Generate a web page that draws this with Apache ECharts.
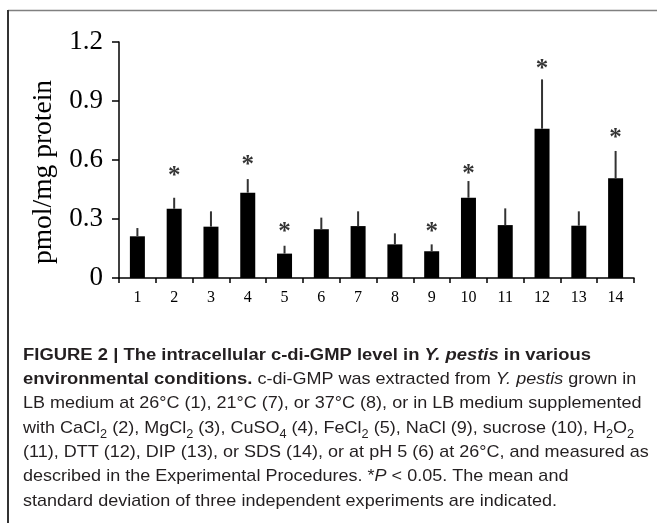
<!DOCTYPE html>
<html>
<head>
<meta charset="utf-8">
<script src="https://cdn.jsdelivr.net/npm/echarts@6/dist/echarts.min.js"></script>
<style>
    html, body {margin: 0; padding: 0; background: #fff;}
    #chart {width: 657px; height: 523px;}
</style>
</head>
<body>
<div id="chart"></div>
<script>
var categories = ['1', '2', '3', '4', '5', '6', '7', '8', '9', '10', '11', '12', '13', '14'];
var means = [0.212, 0.352, 0.261, 0.434, 0.124, 0.248, 0.264, 0.171, 0.136, 0.408, 0.269, 0.759, 0.266, 0.507];
var sds = [0.042, 0.056, 0.078, 0.069, 0.040, 0.059, 0.075, 0.056, 0.035, 0.085, 0.085, 0.251, 0.073, 0.139];
// height of the significance star, '-' = not significant
var stars = ['-', 0.529, '-', 0.585, 0.244, '-', '-', '-', 0.244, 0.540, '-', 1.074, '-', 0.722];
var yTicks = [0, 0.3, 0.6, 0.9, 1.2];

var serif = '"Liberation Serif", "Times New Roman", serif';
var sans = '"Liberation Sans", Arial, sans-serif';

var errData = means.map(function (m, i) {
    return [i, m, m + sds[i]];
});

var caption = [
    '{b|FIGURE 2 | The intracellular c-di-GMP level in }{bi|Y. pestis}{b| in various}',
    '{b|environmental conditions.}{n| c-di-GMP was extracted from }{i|Y. pestis}{n| grown in}',
    '{n|LB medium at 26°C (1), 21°C (7), or 37°C (8), or in LB medium supplemented}',
    '{n|with CaCl}{sub|2}{n| (2), MgCl}{sub|2}{n| (3), CuSO}{sub|4}{n| (4), FeCl}{sub|2}{n| (5), NaCl (9), sucrose (10), H}{sub|2}{n|O}{sub|2}',
    '{n|(11), DTT (12), DIP (13), or SDS (14), or at pH 5 (6) at 26°C, and measured as}',
    '{n|described in the Experimental Procedures. *}{i|P}{n| < 0.05. The mean and}',
    '{n|standard deviation of three independent experiments are indicated.}'
].join('\n');

var capFont = 17;
var capLine = 24.3;

var option = {
    backgroundColor: '#fff',
    animation: false,
    grid: {left: 119, top: 42, right: 23, bottom: 245, containLabel: false},
    xAxis: {
        type: 'category',
        data: categories,
        axisLine: {lineStyle: {color: '#000', width: 1.5}},
        axisTick: {show: true, inside: false, length: 5, lineStyle: {color: '#000', width: 1.5}},
        axisLabel: {margin: 12, color: '#000', fontFamily: serif, fontSize: 16}
    },
    yAxis: {
        type: 'value',
        min: yTicks[0],
        max: yTicks[yTicks.length - 1],
        interval: yTicks[1] - yTicks[0],
        name: 'pmol/mg protein',
        nameLocation: 'middle',
        nameGap: 61,
        nameTextStyle: {color: '#000', fontFamily: serif, fontSize: 27.5, padding: [0, 24, 0, 0]},
        axisLine: {show: true, lineStyle: {color: '#000', width: 1.5}},
        axisTick: {show: true, length: 7, lineStyle: {color: '#000', width: 1.5}},
        axisLabel: {margin: 16, color: '#000', fontFamily: serif, fontSize: 27},
        splitLine: {show: false}
    },
    series: [{
        type: 'bar',
        data: means,
        barWidth: 15,
        itemStyle: {color: '#000'},
        z: 2
    }, {
        type: 'custom',
        data: errData,
        z: 3,
        renderItem: function (params, api) {
            var lo = api.coord([api.value(0), api.value(1)]);
            var hi = api.coord([api.value(0), api.value(2)]);
            return {
                type: 'line',
                shape: {x1: lo[0], y1: lo[1], x2: hi[0], y2: hi[1]},
                style: {stroke: '#333', lineWidth: 2}
            };
        }
    }, {
        type: 'scatter',
        data: stars,
        symbolSize: 0,
        silent: true,
        label: {
            show: true,
            position: 'inside',
            formatter: '*',
            offset: [0, 3],
            color: '#000',
            fontFamily: serif,
            fontWeight: 'bold',
            fontSize: 25
        },
        z: 4
    }],
    graphic: [{
        type: 'line',
        shape: {x1: 8, y1: 10.5, x2: 657, y2: 10.5},
        style: {stroke: '#808080', lineWidth: 1.5}
    }, {
        type: 'line',
        shape: {x1: 8, y1: 10, x2: 8, y2: 523},
        style: {stroke: '#333', lineWidth: 2}
    }, {
        type: 'text',
        left: 23,
        top: 343,
        scaleX: 1.06,
        style: {
            text: caption,
            fill: '#231f20',
            fontFamily: sans,
            fontSize: capFont,
            lineHeight: capLine,
            rich: {
                n: {fontFamily: sans, fontSize: capFont, lineHeight: capLine, fill: '#231f20'},
                i: {fontFamily: sans, fontSize: capFont, lineHeight: capLine, fontStyle: 'italic', fill: '#231f20'},
                b: {fontFamily: sans, fontSize: 17.4, lineHeight: capLine, fontWeight: 'bold', fill: '#231f20'},
                bi: {fontFamily: sans, fontSize: 17.4, lineHeight: capLine, fontWeight: 'bold', fontStyle: 'italic', fill: '#231f20'},
                sub: {fontFamily: sans, fontSize: 12, lineHeight: 17, verticalAlign: 'bottom', fill: '#231f20'}
            }
        }
    }]
};

var chart = echarts.init(document.getElementById('chart'));
chart.setOption(option);
</script>
</body>
</html>
